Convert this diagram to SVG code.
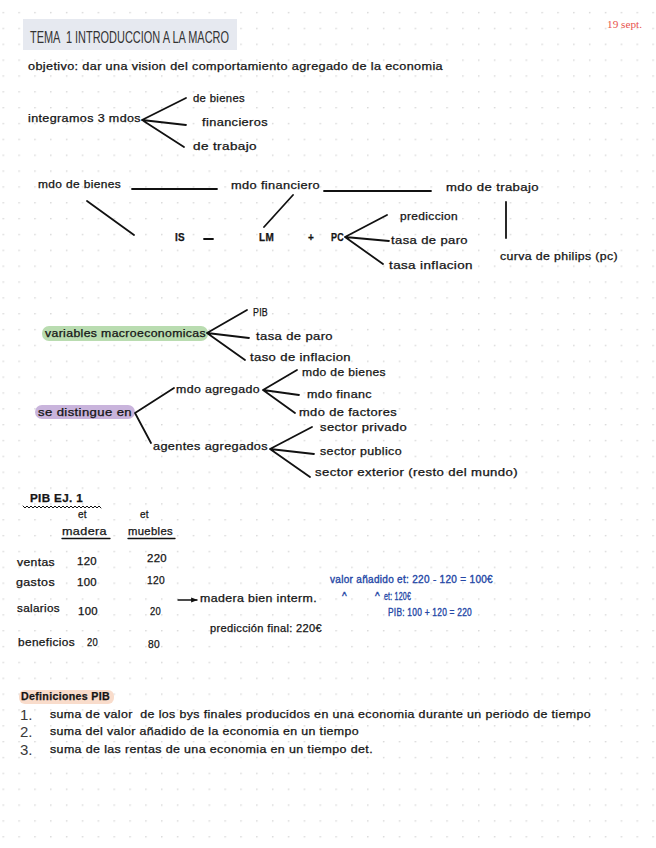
<svg xmlns="http://www.w3.org/2000/svg" width="656" height="848" viewBox="0 0 656 848">
<defs>
<pattern id="dots" x="2.5" y="11.9" width="15.85" height="15.85" patternUnits="userSpaceOnUse">
<circle cx="0.8" cy="0.8" r="0.8" fill="#cfcfcf"/>
</pattern>
<marker id="arr" viewBox="0 0 10 10" refX="9" refY="5" markerWidth="5" markerHeight="5" orient="auto">
<path d="M0,1 L10,5 L0,9 z" fill="#111"/>
</marker>
</defs>
<style>
.t{font-family:"Liberation Sans","DejaVu Sans",sans-serif;font-size:10px;fill:#151515;stroke:#151515;stroke-width:0.25px;letter-spacing:0.3px;white-space:pre}
.b{font-weight:bold}
.blue{fill:#2447a6;stroke:#2447a6;stroke-width:0.35px}
.num{font-family:"Liberation Sans",sans-serif;font-size:15px;fill:#3a3a3a}
.ln{stroke:#111;stroke-width:1.8;fill:none;stroke-linecap:round}
</style>
<rect width="656" height="848" fill="#ffffff"/>
<rect width="656" height="848" fill="url(#dots)"/>

<g id="title">
<rect x="23" y="19" width="214" height="31" fill="#e6e9f0"/>
<text x="30" y="43" font-family="Liberation Sans,sans-serif" font-size="16" fill="#333" style="white-space:pre" textLength="199" lengthAdjust="spacingAndGlyphs">TEMA  1 INTRODUCCION A LA MACRO</text>
</g>
<g id="date"><text x="607" y="28" font-family="Liberation Serif,serif" font-size="10" fill="#e8524d" textLength="35" lengthAdjust="spacingAndGlyphs">19 sept.</text></g>
<g id="objetivo"><text class="t" x="28" y="70" textLength="415" lengthAdjust="spacingAndGlyphs">objetivo: dar una vision del comportamiento agregado de la economia</text></g>

<g id="integramos"><text class="t" x="28" y="122" textLength="113" lengthAdjust="spacingAndGlyphs">integramos 3 mdos</text></g>
<g id="de-bienes"><text class="t" x="193" y="102" textLength="52" lengthAdjust="spacingAndGlyphs">de bienes</text></g>
<g id="financieros"><text class="t" x="202" y="126" textLength="66" lengthAdjust="spacingAndGlyphs">financieros</text></g>
<g id="de-trabajo"><text class="t" x="193" y="150" textLength="64" lengthAdjust="spacingAndGlyphs">de trabajo</text></g>

<g id="mdo-bienes"><text class="t" x="38" y="188" textLength="83" lengthAdjust="spacingAndGlyphs">mdo de bienes</text></g>
<g id="mdo-financiero"><text class="t" x="231" y="189" textLength="89" lengthAdjust="spacingAndGlyphs">mdo financiero</text></g>
<g id="mdo-trabajo"><text class="t" x="446" y="191" textLength="93" lengthAdjust="spacingAndGlyphs">mdo de trabajo</text></g>
<g id="IS"><text class="t b" x="175" y="241" textLength="10" lengthAdjust="spacingAndGlyphs">IS</text></g>
<g id="LM"><text class="t b" x="259" y="241" textLength="15" lengthAdjust="spacingAndGlyphs">LM</text></g>
<g id="plus"><text class="t b" x="308" y="241">+</text></g>
<g id="PC"><text class="t b" x="331" y="241" textLength="13" lengthAdjust="spacingAndGlyphs">PC</text></g>
<g id="prediccion"><text class="t" x="400" y="220" textLength="58" lengthAdjust="spacingAndGlyphs">prediccion</text></g>
<g id="tasa-paro"><text class="t" x="391" y="244" textLength="77" lengthAdjust="spacingAndGlyphs">tasa de paro</text></g>
<g id="tasa-inflacion"><text class="t" x="389" y="269" textLength="84" lengthAdjust="spacingAndGlyphs">tasa inflacion</text></g>
<g id="curva-philips"><text class="t" x="500" y="260" textLength="118" lengthAdjust="spacingAndGlyphs">curva de philips (pc)</text></g>

<g id="variables">
<rect x="42" y="326" width="166" height="15" rx="7" fill="#b9dcb0"/>
<text class="t" x="45" y="337" textLength="161" lengthAdjust="spacingAndGlyphs">variables macroeconomicas</text>
</g>
<g id="PIB"><text class="t" x="253" y="316" textLength="15" lengthAdjust="spacingAndGlyphs">PIB</text></g>
<g id="tasa-paro-2"><text class="t" x="256" y="340" textLength="77" lengthAdjust="spacingAndGlyphs">tasa de paro</text></g>
<g id="taso-inflacion"><text class="t" x="250" y="361" textLength="101" lengthAdjust="spacingAndGlyphs">taso de inflacion</text></g>

<g id="se-distingue">
<rect x="35" y="405" width="100" height="14" rx="7" fill="#c9b4dc"/>
<text class="t" x="38" y="416" textLength="94" lengthAdjust="spacingAndGlyphs">se distingue en</text>
</g>
<g id="mdo-agregado"><text class="t" x="176" y="393" textLength="84" lengthAdjust="spacingAndGlyphs">mdo agregado</text></g>
<g id="mdo-bienes-2"><text class="t" x="302" y="376" textLength="84" lengthAdjust="spacingAndGlyphs">mdo de bienes</text></g>
<g id="mdo-financ"><text class="t" x="307" y="398" textLength="65" lengthAdjust="spacingAndGlyphs">mdo financ</text></g>
<g id="mdo-factores"><text class="t" x="299" y="416" textLength="98" lengthAdjust="spacingAndGlyphs">mdo de factores</text></g>
<g id="agentes-agregados"><text class="t" x="153" y="450" textLength="115" lengthAdjust="spacingAndGlyphs">agentes agregados</text></g>
<g id="sector-privado"><text class="t" x="320" y="431" textLength="87" lengthAdjust="spacingAndGlyphs">sector privado</text></g>
<g id="sector-publico"><text class="t" x="320" y="455" textLength="82" lengthAdjust="spacingAndGlyphs">sector publico</text></g>
<g id="sector-exterior"><text class="t" x="315" y="476" textLength="203" lengthAdjust="spacingAndGlyphs">sector exterior (resto del mundo)</text></g>

<g id="pib-ej">
<text class="t b" x="30" y="502" font-size="11" textLength="53" lengthAdjust="spacingAndGlyphs">PIB EJ. 1</text>
<path class="ln" style="stroke-width:1" d="M23,506 l2,2 l2,-2 l2,2 l2,-2 l2,2 l2,-2 l2,2 l2,-2 l2,2 l2,-2 l2,2 l2,-2 l2,2 l2,-2 l2,2 l2,-2 l2,2 l2,-2 l2,2 l2,-2 l2,2 l2,-2 l2,2 l2,-2 l2,2 l2,-2 l2,2 l2,-2 l2,2 l2,-2 l2,2 l2,-2 l2,2 l2,-2 l2,2 l2,-2 l2,2 l2,-2 l2,2"/>
</g>
<g id="col-madera">
<text class="t" x="78" y="518" font-size="8">et</text>
<text class="t" x="62" y="535" textLength="45" lengthAdjust="spacingAndGlyphs">madera</text>
<line class="ln" style="stroke-width:1.3" x1="62" y1="538.5" x2="110" y2="538.5"/>
</g>
<g id="col-muebles">
<text class="t" x="140" y="518" font-size="8">et</text>
<text class="t" x="128" y="535" textLength="45" lengthAdjust="spacingAndGlyphs">muebles</text>
<line class="ln" style="stroke-width:1.3" x1="128" y1="538.5" x2="175" y2="538.5"/>
</g>
<g id="row-ventas">
<text class="t" x="17" y="566" textLength="38" lengthAdjust="spacingAndGlyphs">ventas</text>
<text class="t" x="77" y="565" textLength="20" lengthAdjust="spacingAndGlyphs">120</text>
<text class="t" x="147" y="562" textLength="20" lengthAdjust="spacingAndGlyphs">220</text>
</g>
<g id="row-gastos">
<text class="t" x="16" y="586" textLength="39" lengthAdjust="spacingAndGlyphs">gastos</text>
<text class="t" x="77" y="586" textLength="20" lengthAdjust="spacingAndGlyphs">100</text>
<text class="t" x="147" y="584" textLength="18" lengthAdjust="spacingAndGlyphs">120</text>
</g>
<g id="row-salarios">
<text class="t" x="17" y="612" textLength="43" lengthAdjust="spacingAndGlyphs">salarios</text>
<text class="t" x="78" y="615" textLength="20" lengthAdjust="spacingAndGlyphs">100</text>
<text class="t" x="150" y="615" textLength="11" lengthAdjust="spacingAndGlyphs">20</text>
</g>
<g id="row-beneficios">
<text class="t" x="18" y="646" textLength="57" lengthAdjust="spacingAndGlyphs">beneficios</text>
<text class="t" x="87" y="646" textLength="11" lengthAdjust="spacingAndGlyphs">20</text>
<text class="t" x="148" y="648" textLength="12" lengthAdjust="spacingAndGlyphs">80</text>
</g>
<g id="madera-interm"><text class="t" x="200" y="602" textLength="117" lengthAdjust="spacingAndGlyphs">madera bien interm.</text></g>
<g id="prediccion-final"><text class="t" x="210" y="632" textLength="112" lengthAdjust="spacingAndGlyphs">predicción final: 220€</text></g>
<g id="valor-anadido">
<text class="t blue" x="330" y="583" textLength="163" lengthAdjust="spacingAndGlyphs">valor añadido et: 220 - 120 = 100€</text>
<text class="t blue" x="342" y="600">^</text>
<text class="t blue" x="375" y="600">^</text>
<text class="t blue" x="384" y="600" font-size="8" textLength="27" lengthAdjust="spacingAndGlyphs">et: 120€</text>
<text class="t blue" x="388" y="616" font-size="8" textLength="84" lengthAdjust="spacingAndGlyphs">PIB: 100 + 120 = 220</text>
</g>

<g id="definiciones">
<rect x="19" y="690" width="95" height="14" rx="6" fill="#f9dccb"/>
<text class="t b" x="21" y="700" font-size="8.5" textLength="89" lengthAdjust="spacingAndGlyphs">Definiciones PIB</text>
</g>
<g id="def-1">
<text class="num" x="20" y="720">1.</text>
<text class="t" x="50" y="718" font-size="9" textLength="541" lengthAdjust="spacingAndGlyphs">suma de valor  de los bys finales producidos en una economia durante un periodo de tiempo</text>
</g>
<g id="def-2">
<text class="num" x="20" y="737">2.</text>
<text class="t" x="50" y="735" font-size="9" textLength="309" lengthAdjust="spacingAndGlyphs">suma del valor añadido de la economia en un tiempo</text>
</g>
<g id="def-3">
<text class="num" x="20" y="755">3.</text>
<text class="t" x="50" y="753" font-size="9" textLength="323" lengthAdjust="spacingAndGlyphs">suma de las rentas de una economia en un tiempo det.</text>
</g>

<g id="connectors">
<path class="ln" d="M142,120 L186,98 M142,120 L186,125 M142,120 L184,147"/>
<path class="ln" d="M132,189 L217,189 M324,191 L431,191"/>
<path class="ln" d="M87,201 L134,235 M293,195 L264,227"/>
<path class="ln" d="M204,239 L213,239"/>
<path class="ln" d="M345,237 L387,215 M345,237 L389,241 M345,237 L383,264"/>
<path class="ln" d="M506,202 L506,238"/>
<path class="ln" d="M207,333 L247,310 M207,333 L249,338 M207,333 L245,360"/>
<path class="ln" d="M135,413 L174,388 M135,413 L151,443"/>
<path class="ln" d="M263,390 L297,370 M263,390 L299,395 M263,390 L295,413"/>
<path class="ln" d="M270,449 L312,427 M270,449 L314,454 M270,449 L310,477"/>
<path class="ln" style="stroke-width:1.3" d="M178,600 L197,600" marker-end="url(#arr)"/>
</g>
</svg>
